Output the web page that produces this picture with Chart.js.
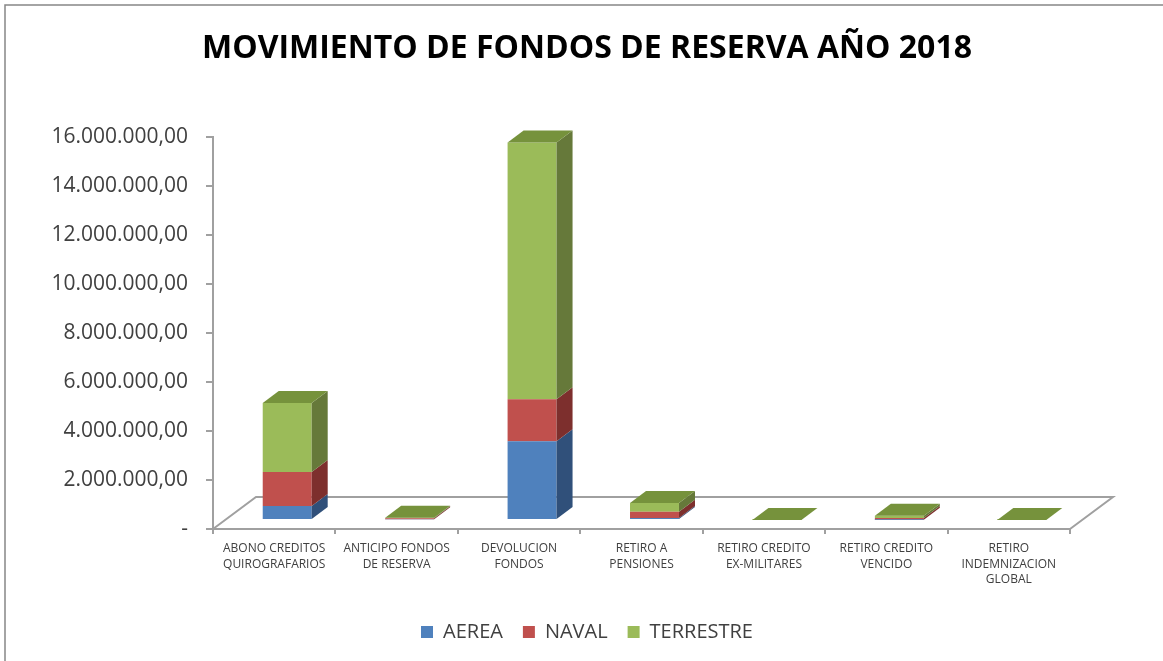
<!DOCTYPE html>
<html lang="es">
<head>
  <meta charset="UTF-8" />
  <script src="https://cdn.jsdelivr.net/npm/chart.js"></script>
  <title>Movimiento de fondos de reserva 2018</title>
  <style>
    * { padding: 0; margin: 0; }
    html, body { background: #fff; }
    .graph { position: relative; width: 1163px; height: 661px; }
  </style>
</head>
<body>
  <div class="graph">
    <canvas id="fondosChart" aria-label="Movimiento de fondos de reserva" role="img"></canvas>
  </div>

<script>
  // Data
  const categories = [
    ['ABONO CREDITOS', 'QUIROGRAFARIOS'],
    ['ANTICIPO FONDOS', 'DE RESERVA'],
    ['DEVOLUCION', 'FONDOS'],
    ['RETIRO A', 'PENSIONES'],
    ['RETIRO CREDITO', 'EX-MILITARES'],
    ['RETIRO CREDITO', 'VENCIDO'],
    ['RETIRO', 'INDEMNIZACION', 'GLOBAL']
  ];
  const seriesNames = ['AEREA', 'NAVAL', 'TERRESTRE'];
  const aerea = [570000, 30000, 3220000, 80000, 0, 10000, 0];
  const naval = [1390000, 40000, 1710000, 260000, 0, 70000, 0];
  const terrestre = [2820000, 20000, 10490000, 350000, 5000, 90000, 5000];
  const yMax = 16000000;
  const yStep = 2000000;

  const frontColors = ['#4f81bd', '#c0504d', '#9bbb59'];
  const sideColors = ['#30507a', '#7d2f2d', '#66793a'];
  const topColor = '#76923c';
  const axisColor = '#a0a0a0';
  const textColor = '#404040';

  // 3D look: how far the bars sit inside the floor, and how deep they are
  const shift = { dx: 13, dy: -9 };
  const depth = { dx: 16, dy: -12 };
  const floor = { dx: 43, dy: -32 };

  function fmt(v) {
    if (v === 0) return '-';
    return String(v).replace(/\B(?=(\d{3})+(?!\d))/g, '.') + ',00';
  }

  function poly(ctx, pts, color) {
    ctx.beginPath();
    ctx.moveTo(pts[0][0], pts[0][1]);
    for (var i = 1; i < pts.length; i++) ctx.lineTo(pts[i][0], pts[i][1]);
    ctx.closePath();
    ctx.fillStyle = color;
    ctx.fill();
  }

  const frame = {
    id: 'frame',
    beforeDraw(chart) {
      const ctx = chart.ctx;
      ctx.save();
      ctx.strokeStyle = '#868686';
      ctx.lineWidth = 1.5;
      ctx.strokeRect(5, 5, chart.width + 20, chart.height + 20);
      ctx.restore();
    }
  };

  const bars3d = {
    id: 'bars3d',
    beforeDatasetsDraw(chart) {
      const ctx = chart.ctx;
      const x = chart.scales.x, y = chart.scales.y;
      // floor of the 3D box
      ctx.save();
      ctx.strokeStyle = axisColor;
      ctx.lineWidth = 2;
      ctx.beginPath();
      ctx.moveTo(x.left, y.bottom);
      ctx.lineTo(x.left + floor.dx, y.bottom + floor.dy);
      ctx.lineTo(x.right + floor.dx, y.bottom + floor.dy);
      ctx.lineTo(x.right, y.bottom);
      ctx.stroke();
      ctx.restore();

      ctx.save();
      ctx.translate(shift.dx, shift.dy);
    },
    afterDatasetsDraw(chart) {
      const ctx = chart.ctx;
      const n = chart.data.datasets.length;
      for (var d = 0; d < n; d++) {
        const meta = chart.getDatasetMeta(d);
        meta.data.forEach(function (bar) {
          const p = bar.getProps(['x', 'y', 'base', 'width'], true);
          const r = p.x + p.width / 2, l = p.x - p.width / 2;
          if (p.base - p.y > 0) {
            poly(ctx, [[r, p.y], [r + depth.dx, p.y + depth.dy], [r + depth.dx, p.base + depth.dy], [r, p.base]], sideColors[d]);
          }
          if (d === n - 1) {
            poly(ctx, [[l, p.y], [r, p.y], [r + depth.dx, p.y + depth.dy], [l + depth.dx, p.y + depth.dy]], topColor);
          }
        });
      }
      ctx.restore();
    }
  };

  const fondosChart = new Chart(document.getElementById('fondosChart'), {
    type: 'bar',
    data: {
      labels: categories,
      datasets: [aerea, naval, terrestre].map(function (values, i) {
        return {
          label: seriesNames[i],
          data: values,
          backgroundColor: frontColors[i],
          borderWidth: 0,
          clip: false,
          barPercentage: 1,
          categoryPercentage: 0.4
        };
      })
    },
    options: {
      responsive: true,
      maintainAspectRatio: false,
      animation: false,
      layout: { padding: { left: 11, right: 0, top: 0, bottom: 9 } },
      scales: {
        x: {
          stacked: true,
          ticks: {
            color: textColor,
            font: { family: 'Open Sans', size: 12, lineHeight: 1.3 },
            padding: 7,
            maxRotation: 0,
            autoSkip: false
          },
          grid: { drawOnChartArea: false, tickLength: 5, color: axisColor, lineWidth: 2 },
          border: { color: axisColor, width: 2 },
          afterFit: function (s) { s.height = 73; }
        },
        y: {
          stacked: true,
          min: 0,
          max: yMax,
          ticks: {
            stepSize: yStep,
            color: textColor,
            font: { family: 'Open Sans', size: 21 },
            padding: 18,
            callback: function (v) { return fmt(v); }
          },
          grid: { drawOnChartArea: false, tickLength: 7, color: axisColor, lineWidth: 2 },
          border: { color: axisColor, width: 2 },
          afterFit: function (s) { s.width = 202; }
        },
        // empty axis on the right, only to leave room for the 3D depth
        yRight: {
          position: 'right',
          display: true,
          ticks: { display: false },
          grid: { display: false },
          border: { display: false },
          afterFit: function (s) { s.width = 93; }
        }
      },
      plugins: {
        title: {
          display: true,
          text: 'MOVIMIENTO DE FONDOS DE RESERVA AÑO 2018',
          color: '#000',
          font: { family: 'Open Sans', size: 32, weight: 'bold' },
          padding: { top: 30, bottom: 69 }
        },
        legend: {
          position: 'bottom',
          labels: {
            boxWidth: 12,
            boxHeight: 12,
            padding: 20,
            color: textColor,
            font: { family: 'Open Sans', size: 20 }
          }
        },
        tooltip: { enabled: false }
      }
    },
    plugins: [frame, bars3d]
  });
</script>
</body>
</html>
